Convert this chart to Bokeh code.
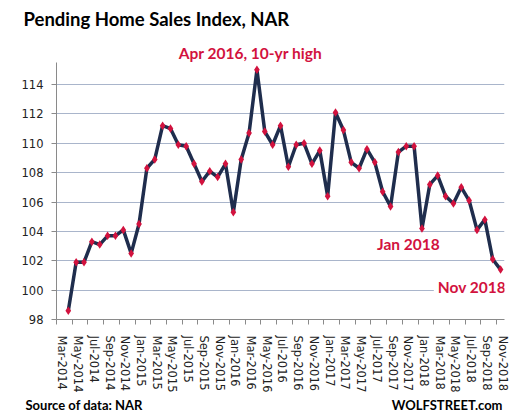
from bokeh.plotting import figure
from bokeh.layouts import column
from bokeh.models import Range1d, FixedTicker, Label, ColumnDataSource
from bokeh.embed import file_html
from bokeh.resources import INLINE

# Months on the axis: Mar-2014 .. Nov-2018 (index 0 .. 56); data begins Apr-2014
month_index = list(range(1, 57))
index_values = [
    98.6, 101.9, 101.9, 103.3, 103.1, 103.7, 103.7, 104.1, 102.5,          # Apr14-Dec14
    104.5, 108.3, 108.9, 111.2, 111.0, 109.9, 109.8, 108.6, 107.4, 108.1,  # Jan15-Oct15
    107.7, 108.6,                                                           # Nov15-Dec15
    105.3, 108.9, 110.7, 115.0, 110.8, 109.9, 111.2, 108.4, 109.9, 110.0,  # Jan16-Oct16
    108.6, 109.5,                                                           # Nov16-Dec16
    106.4, 112.1, 110.9, 108.7, 108.3, 109.6, 108.7, 106.7, 105.7, 109.4,  # Jan17-Oct17
    109.8, 109.8,                                                           # Nov17-Dec17
    104.2, 107.2, 107.8, 106.4, 105.9, 107.0, 106.1, 104.1, 104.8, 102.1,  # Jan18-Oct18
    101.4,                                                                  # Nov18
]
tick_labels = [
    "Mar-2014", "May-2014", "Jul-2014", "Sep-2014", "Nov-2014",
    "Jan-2015", "Mar-2015", "May-2015", "Jul-2015", "Sep-2015", "Nov-2015",
    "Jan-2016", "Mar-2016", "May-2016", "Jul-2016", "Sep-2016", "Nov-2016",
    "Jan-2017", "Mar-2017", "May-2017", "Jul-2017", "Sep-2017", "Nov-2017",
    "Jan-2018", "Mar-2018", "May-2018", "Jul-2018", "Sep-2018", "Nov-2018",
]
y_ticks = [98, 100, 102, 104, 106, 108, 110, 112, 114]

RED = "#d2123e"
NAVY = "#1f2d4d"
GRID = "#a9b5cb"
AXIS = "#8a8a8a"
W = 512
HEAD_H = 62
MAIN_H = 333
FOOT_H = 17


def add_label(fig, x, y, text, size, color, align="left", bg=None):
    lab = Label(x=x, y=y, text=text, text_font="Lato", text_font_style="bold",
                text_font_size=size, text_color=color, text_align=align,
                text_baseline="middle")
    if bg is not None:
        lab.background_fill_color = bg
        lab.padding = 4
    fig.add_layout(lab)


def text_strip(h):
    f = figure(width=W, height=h, output_backend="svg", toolbar_location=None,
               x_range=Range1d(0, W), y_range=Range1d(0, h),
               x_axis_type=None, y_axis_type=None, min_border=0,
               frame_align=False)
    f.outline_line_color = None
    f.xgrid.visible = False
    f.ygrid.visible = False
    return f


# ---- header: title and peak annotation
head = text_strip(HEAD_H)
add_label(head, 23, HEAD_H - 18, "Pending Home Sales Index, NAR", "18.5px", "black")
add_label(head, 250, HEAD_H - 52.7, "Apr 2016, 10-yr high", "15.5px", RED, "center")

# ---- main chart
p = figure(width=W, height=MAIN_H, output_backend="svg", toolbar_location=None,
           x_range=Range1d(-0.5, 56.5), y_range=Range1d(98, 115.5),
           min_border_left=56, min_border_right=8, min_border_top=0,
           min_border_bottom=74, frame_align=False)
p.outline_line_color = None

src = ColumnDataSource(dict(x=month_index, y=index_values))
p.line("x", "y", source=src, line_color=NAVY, line_width=3.5, line_join="round")
p.scatter("x", "y", source=src, marker="diamond", size=8.5, fill_color=RED,
          line_color=None)

label_pos = [2 * k + 0.25 for k in range(len(tick_labels))]
p.xaxis.ticker = FixedTicker(ticks=label_pos,
                             minor_ticks=[2 * k - 0.5 for k in range(29)])
p.xaxis.major_label_overrides = {pos: lab for pos, lab in zip(label_pos, tick_labels)}
p.xaxis.major_label_orientation = "vertical"
p.xaxis.major_tick_out = 0
p.xaxis.major_tick_in = 0
p.xaxis.minor_tick_out = 5
p.xaxis.minor_tick_in = 0
p.xaxis.minor_tick_line_color = AXIS
p.xaxis.axis_line_color = AXIS
p.xaxis.major_label_standoff = 11
p.xaxis.major_label_text_font = "DejaVu Sans"
p.xaxis.major_label_text_font_size = "11.5px"
p.xaxis.major_label_text_color = "#222222"

p.yaxis.ticker = FixedTicker(ticks=y_ticks)
p.yaxis.major_tick_out = 5
p.yaxis.major_tick_in = 0
p.yaxis.minor_tick_line_color = None
p.yaxis.major_tick_line_color = AXIS
p.yaxis.axis_line_color = AXIS
p.yaxis.major_label_standoff = 8
p.yaxis.major_label_text_font = "DejaVu Sans"
p.yaxis.major_label_text_font_size = "11.5px"
p.yaxis.major_label_text_color = "#222222"

p.xgrid.grid_line_color = None
p.ygrid.grid_line_color = GRID
p.ygrid.grid_line_width = 1.2

add_label(p, 44.28, 103.17, "Jan 2018", "15.5px", RED, "center")
add_label(p, 52.36, 100.2, "Nov 2018", "15.5px", RED, "center", bg="white")

# ---- footer
foot = text_strip(FOOT_H)
add_label(foot, 25, 8, "Source of data: NAR", "13px", "black")
add_label(foot, 502, 8, "WOLFSTREET.com", "13px", "black", "right")

layout = column(head, p, foot, spacing=0)
open("out.html", "w").write(file_html(layout, INLINE))
